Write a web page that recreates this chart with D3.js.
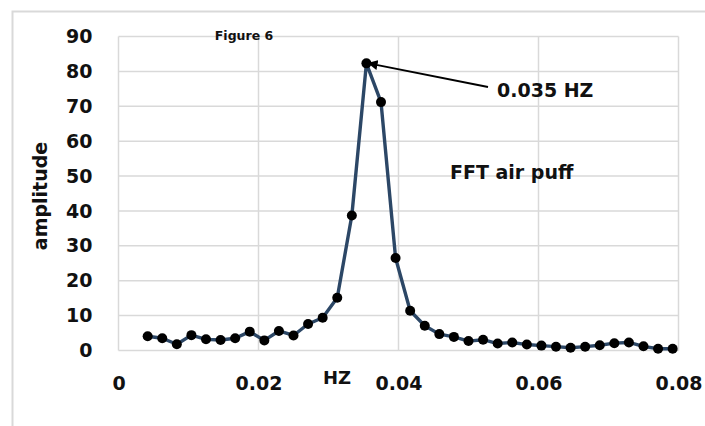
<!DOCTYPE html>
<html><head><meta charset="utf-8">
<script src="https://cdn.jsdelivr.net/npm/d3@7"></script>
<style>
html,body{margin:0;padding:0;background:#fff;}
svg{display:block;}
text{font-family:"DejaVu Sans",sans-serif;font-weight:700;fill:#111;}
</style></head><body>
<div id="chart"></div>
<script>
// bin index k -> frequency k/480 Hz
const binIndex = [2,3,4,5,6,7,8,9,10,11,12,13,14,15,16,17,18,19,20,21,22,23,24,25,26,27,28,29,30,31,32,33,34,35,36,37,38];
const amplitude = [4.1,3.5,1.8,4.4,3.2,3.0,3.5,5.4,2.9,5.6,4.3,7.6,9.4,15.1,38.7,82.3,71.2,26.5,11.4,7.1,4.7,3.9,2.7,3.1,2.0,2.3,1.7,1.4,1.1,0.8,1.1,1.5,2.1,2.3,1.2,0.5,0.5];
const xTicks = [0,0.02,0.04,0.06,0.08];
const xTickLabels = ["0","0.02","0.04","0.06","0.08"];
const yTicks = [0,10,20,30,40,50,60,70,80,90];
const sampleRate = 480;
const peakLabel = "0.035 HZ";
const seriesLabel = "FFT air puff";
const titleText = "Figure 6";
const xTitle = "HZ";
const yTitle = "amplitude";

const data = binIndex.map((k,i)=>({x:k/sampleRate, y:amplitude[i]}));

const W=705,H=426;
const FONT='"DejaVu Sans",sans-serif';
const svg=d3.select("#chart").append("svg").attr("width",W).attr("height",H);

// outer chart border
svg.append("rect").attr("x",12.5).attr("y",11.5).attr("width",W+10).attr("height",H+10)
  .attr("fill","#fff").attr("stroke","#d9d9d9").attr("stroke-width",2);

const L=118.5,R=678.5,T=36.5,B=350.5;
const x=d3.scaleLinear().domain([0,0.08]).range([L,R]);
const y=d3.scaleLinear().domain([0,90]).range([B,T]);

// gridlines
const g=svg.append("g");
g.selectAll(".hg").data(yTicks).join("line")
  .attr("x1",L).attr("x2",R).attr("y1",d=>y(d)).attr("y2",d=>y(d))
  .attr("stroke","#d9d9d9").attr("stroke-width",1.5);
g.selectAll(".vg").data(xTicks).join("line")
  .attr("y1",T).attr("y2",B).attr("x1",d=>x(d)).attr("x2",d=>x(d))
  .attr("stroke","#d9d9d9").attr("stroke-width",1.5);

// axes via d3 axis (labels only)
const yAxis=svg.append("g").attr("transform",`translate(${L},0)`)
  .call(d3.axisLeft(y).tickValues(yTicks).tickSize(0).tickPadding(26));
yAxis.select(".domain").remove();
yAxis.selectAll("text").attr("font-size",19).attr("font-family",FONT).attr("font-weight",700).attr("fill","#111");

const xAxis=svg.append("g").attr("transform",`translate(0,${B})`)
  .call(d3.axisBottom(x).tickValues(xTicks).tickFormat((d,i)=>xTickLabels[i]).tickSize(0).tickPadding(26));
xAxis.select(".domain").remove();
xAxis.selectAll("text").attr("font-size",19).attr("font-family",FONT).attr("font-weight",700).attr("fill","#111");

// line
const line=d3.line().x(d=>x(d.x)).y(d=>y(d.y));
svg.append("path").datum(data).attr("d",line).attr("fill","none")
  .attr("stroke","#2c4766").attr("stroke-width",3.4).attr("stroke-linejoin","round");
svg.selectAll(".pt").data(data).join("circle")
  .attr("cx",d=>x(d.x)).attr("cy",d=>y(d.y)).attr("r",5).attr("fill","#000");

// title
svg.append("text").attr("x",244).attr("y",39.5).attr("text-anchor","middle").attr("font-size",12.5).text(titleText);
// axis titles
svg.append("text").attr("x",337).attr("y",384).attr("text-anchor","middle").attr("font-size",18).text(xTitle);
svg.append("text").attr("transform","translate(47,196) rotate(-90)").attr("text-anchor","middle").attr("font-size",19).text(yTitle);

// annotation
const peak=data[d3.maxIndex(data,d=>d.y)];
svg.append("defs").append("marker").attr("id","ah").attr("viewBox","0 0 10 10")
  .attr("refX",1).attr("refY",5).attr("markerWidth",5).attr("markerHeight",5).attr("orient","auto-start-reverse")
  .append("path").attr("d","M0,0 L10,5 L0,10 Z").attr("fill","#000");
svg.append("line").attr("x1",488).attr("y1",87).attr("x2",x(peak.x)+10).attr("y2",y(peak.y)+1.5)
  .attr("stroke","#000").attr("stroke-width",2).attr("marker-end","url(#ah)");
svg.append("text").attr("x",497).attr("y",97).attr("font-size",19).text(peakLabel);
svg.append("text").attr("x",450).attr("y",179).attr("font-size",19).text(seriesLabel);
</script></body></html>
